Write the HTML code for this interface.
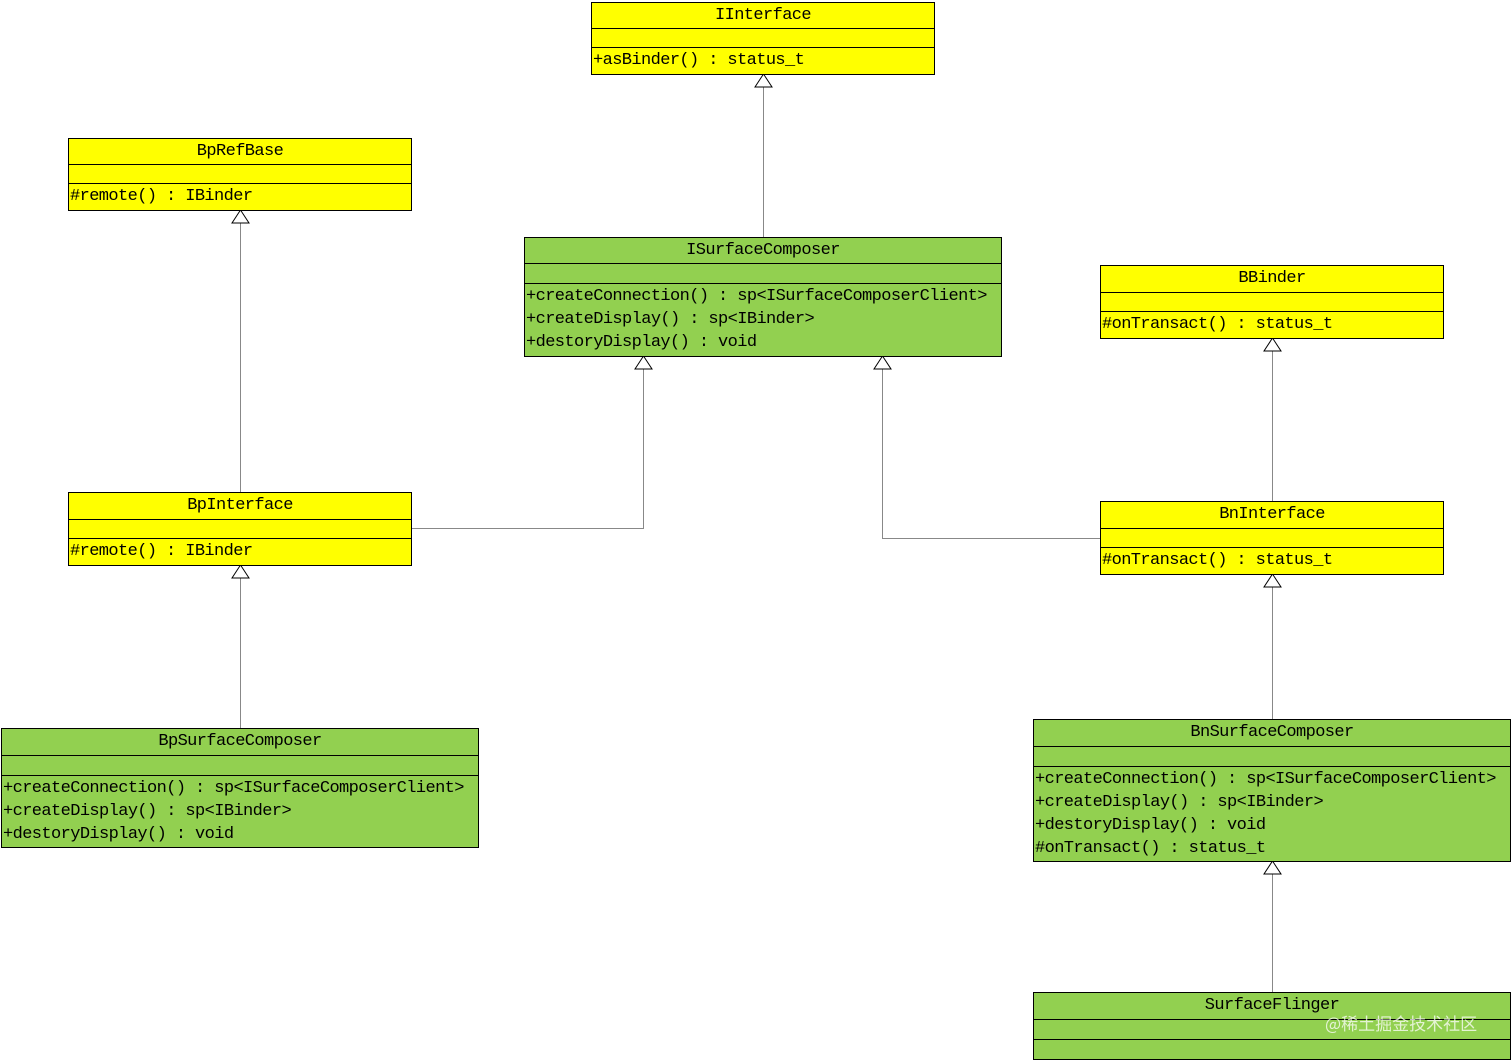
<!DOCTYPE html>
<html><head><style>
body{margin:0;width:1512px;height:1060px;background:#fff;position:relative;overflow:hidden;font-family:"Liberation Mono","Noto Serif CJK SC",monospace;font-size:17px;letter-spacing:-0.6px;color:#000}
.b{position:absolute;border:1px solid #000;box-sizing:border-box}
.y{background:#ffff00}.g{background:#92d050}
.h{text-align:center;border-bottom:1px solid #000;box-sizing:border-box;line-height:26px}
.e{border-bottom:1px solid #000;box-sizing:border-box}
.m{padding-left:1px;line-height:23px;white-space:pre;padding-top:1px}
svg{position:absolute;left:0;top:0}
.wm{position:absolute;left:1325px;top:1010px;color:rgba(255,255,255,.75);font-family:"Noto Sans CJK SC",sans-serif;font-size:17px;letter-spacing:0}
</style></head><body>
<svg width="1512" height="1060">
<g stroke="#888" stroke-width="1" fill="none">
<path d="M763.5 87V237"/><path d="M240.5 223V492"/>
<path d="M411 528.5H643.5V369"/><path d="M1100 538.5H882.5V369"/>
<path d="M1272.5 351V501"/><path d="M240.5 578V728"/>
<path d="M1272.5 587V719"/><path d="M1272.5 874V992"/>
</g>
<g stroke="#000" stroke-width="1" fill="#fff">
<path d="M763.5 74L755 87H772Z"/><path d="M240.5 210L232 223H249Z"/>
<path d="M643.5 356L635 369H652Z"/><path d="M882.5 356L874 369H891Z"/>
<path d="M1272.5 338L1264 351H1281Z"/><path d="M240.5 565L232 578H249Z"/>
<path d="M1272.5 574L1264 587H1281Z"/><path d="M1272.5 861L1264 874H1281Z"/>
</g></svg>
<div class="b y" style="left:591px;top:2px;width:344px;height:73px"><div class="h" style="height:26px">IInterface</div><div class="e" style="height:19px"></div><div class="m">+asBinder() : status_t</div></div>
<div class="b y" style="left:68px;top:138px;width:344px;height:73px"><div class="h" style="height:26px">BpRefBase</div><div class="e" style="height:19px"></div><div class="m">#remote() : IBinder</div></div>
<div class="b g" style="left:524px;top:237px;width:478px;height:120px"><div class="h" style="height:26px">ISurfaceComposer</div><div class="e" style="height:20px"></div><div class="m">+createConnection() : sp&lt;ISurfaceComposerClient&gt;
+createDisplay() : sp&lt;IBinder&gt;
+destoryDisplay() : void</div></div>
<div class="b y" style="left:1100px;top:265px;width:344px;height:74px"><div class="h" style="height:27px">BBinder</div><div class="e" style="height:19px"></div><div class="m">#onTransact() : status_t</div></div>
<div class="b y" style="left:68px;top:492px;width:344px;height:74px"><div class="h" style="height:27px">BpInterface</div><div class="e" style="height:19px"></div><div class="m">#remote() : IBinder</div></div>
<div class="b y" style="left:1100px;top:501px;width:344px;height:74px"><div class="h" style="height:27px">BnInterface</div><div class="e" style="height:19px"></div><div class="m">#onTransact() : status_t</div></div>
<div class="b g" style="left:1px;top:728px;width:478px;height:120px"><div class="h" style="height:27px">BpSurfaceComposer</div><div class="e" style="height:20px"></div><div class="m">+createConnection() : sp&lt;ISurfaceComposerClient&gt;
+createDisplay() : sp&lt;IBinder&gt;
+destoryDisplay() : void</div></div>
<div class="b g" style="left:1033px;top:719px;width:478px;height:143px"><div class="h" style="height:27px">BnSurfaceComposer</div><div class="e" style="height:20px"></div><div class="m">+createConnection() : sp&lt;ISurfaceComposerClient&gt;
+createDisplay() : sp&lt;IBinder&gt;
+destoryDisplay() : void
#onTransact() : status_t</div></div>
<div class="b g" style="left:1033px;top:992px;width:478px;height:68px"><div class="h" style="height:27px">SurfaceFlinger</div><div class="e" style="height:20px"></div></div>
<div class="wm">@稀土掘金技术社区</div>
</body></html>
